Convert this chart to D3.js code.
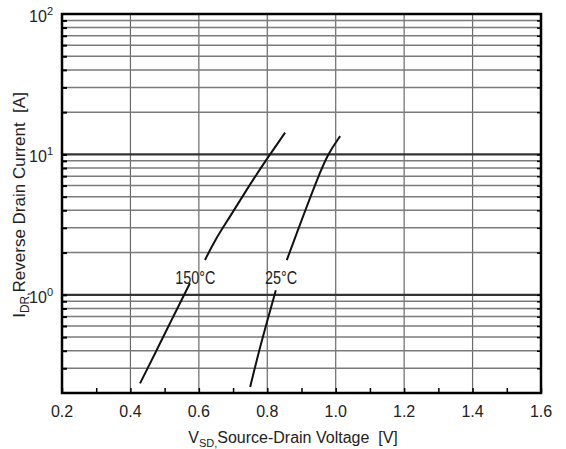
<!DOCTYPE html>
<html><head><meta charset="utf-8">
<script src="https://cdn.jsdelivr.net/npm/d3@7"></script>
<style>
body{margin:0;background:#fff;}
text{font-family:"Liberation Sans",Arial,sans-serif;}
</style></head>
<body><svg id="c" width="566" height="449"></svg>
<script>
// data (V, A); null breaks the curve where the label sits
const v150 = [0.428,0.477,0.525,0.574,null,0.618,0.647,0.691,0.745,0.798,0.852];
const i150 = [0.234,0.405,0.70,1.21,null,1.77,2.46,3.60,5.89,9.23,14.3];
const v25  = [0.750,0.774,0.798,0.825,null,0.857,0.886,0.915,0.945,0.978,1.013];
const i25  = [0.221,0.383,0.627,1.08,null,1.77,2.74,4.24,6.57,10.2,13.5];
const xTicks = [0.2,0.4,0.6,0.8,1.0,1.2,1.4,1.6];
const xMinor = [0.3,0.5,0.7,0.9,1.1,1.3,1.5];
const yDecades = [1,10,100];
const yGrid = [0.3,0.4,0.5,0.6,0.7,0.8,0.9,1,2,3,4,5,6,7,8,9,10,20,30,40,50,60,70,80,90];
const labels = [{t:"150\u00b0C",v:0.59,i:1.2},{t:"25\u00b0C",v:0.84,i:1.2}];

const svg = d3.select("#c");
const L=62,R=541,T=14,B=393;
const x = d3.scaleLinear().domain([0.2,1.6]).range([L,R]);
const y = d3.scaleLog().domain([0.2,100]).range([B,T]);

// vertical grid
svg.append("g").selectAll("line").data(xTicks.slice(1,-1)).join("line")
  .attr("x1",d=>x(d)).attr("x2",d=>x(d)).attr("y1",T).attr("y2",B)
  .attr("stroke","#6a6a6a").attr("stroke-width",1.2);
// horizontal grid
svg.append("g").selectAll("line").data(yGrid).join("line")
  .attr("x1",L).attr("x2",R).attr("y1",d=>y(d)).attr("y2",d=>y(d))
  .attr("stroke",d=>(d===1||d===10)?"#333":"#7a7a7a")
  .attr("stroke-width",d=>(d===1||d===10)?2.2:1.5);

// axes with inward ticks
const gx = svg.append("g").attr("transform",`translate(0,${B})`)
  .call(d3.axisBottom(x).tickValues(xTicks.concat(xMinor)).tickSize(-5).tickFormat(""));
gx.select(".domain").remove();
gx.selectAll("line").attr("stroke","#000").attr("stroke-width",1.5);
const gy = svg.append("g").attr("transform",`translate(${L},0)`)
  .call(d3.axisLeft(y).tickValues(yGrid).tickSize(-5).tickFormat(""));
gy.select(".domain").remove();
gy.selectAll("line").attr("stroke","#000").attr("stroke-width",2);
const gr = svg.append("g").attr("transform",`translate(${R},0)`)
  .call(d3.axisRight(y).tickValues(yGrid).tickSize(-4).tickFormat(""));
gr.select(".domain").remove();
gr.selectAll("line").attr("stroke","#000").attr("stroke-width",1.5);

// frame
svg.append("rect").attr("x",L).attr("y",T).attr("width",R-L).attr("height",B-T)
  .attr("fill","none").attr("stroke","#000").attr("stroke-width",2.5);

// x tick labels
svg.append("g").selectAll("text").data(xTicks).join("text")
  .attr("x",d=>x(d)).attr("y",B+24).attr("text-anchor","middle")
  .attr("font-size",16).attr("fill","#222").text(d=>d.toFixed(1));

// y tick labels 10^n
const yl = svg.append("g").selectAll("text").data(yDecades).join("text")
  .attr("x",L-9).attr("y",d=>y(d)+8).attr("text-anchor","end")
  .attr("font-size",16).attr("fill","#222");
yl.append("tspan").text("10");
yl.append("tspan").attr("font-size",11).attr("dy",-7).text(d=>Math.round(Math.log10(d)));

// curves
const line = d3.line().defined(d=>d[0]!==null)
  .x(d=>x(d[0])).y(d=>y(d[1])).curve(d3.curveBasis);
[[v150,i150],[v25,i25]].forEach(([vs,is])=>{
  svg.append("path").datum(vs.map((v,k)=>[v,is[k]]))
    .attr("d",line).attr("fill","none").attr("stroke","#111").attr("stroke-width",2);
});

// curve labels
labels.forEach(l=>{
  svg.append("text").attr("x",x(l.v)).attr("y",y(l.i))
    .attr("font-size",18).attr("fill","#222").attr("text-anchor","middle")
    .attr("transform",`translate(${x(l.v)},0) scale(0.8,1) translate(${-x(l.v)},0)`)
    .text(l.t);
});

// axis titles
const xt = svg.append("text").attr("x",293).attr("y",443).attr("text-anchor","middle")
  .attr("font-size",16).attr("fill","#222");
xt.append("tspan").text("V");
xt.append("tspan").attr("font-size",11).attr("dy",4).text("SD,");
xt.append("tspan").attr("dy",-4).text("Source-Drain Voltage\u00a0\u00a0[V]");

const yt = svg.append("text").attr("transform","translate(25,205) rotate(-90)")
  .attr("text-anchor","middle").attr("font-size",17).attr("fill","#222");
yt.append("tspan").text("I");
yt.append("tspan").attr("font-size",12).attr("dy",4).text("DR,");
yt.append("tspan").attr("dy",-4).text("Reverse Drain Current\u00a0\u00a0[A]");
</script></body></html>
